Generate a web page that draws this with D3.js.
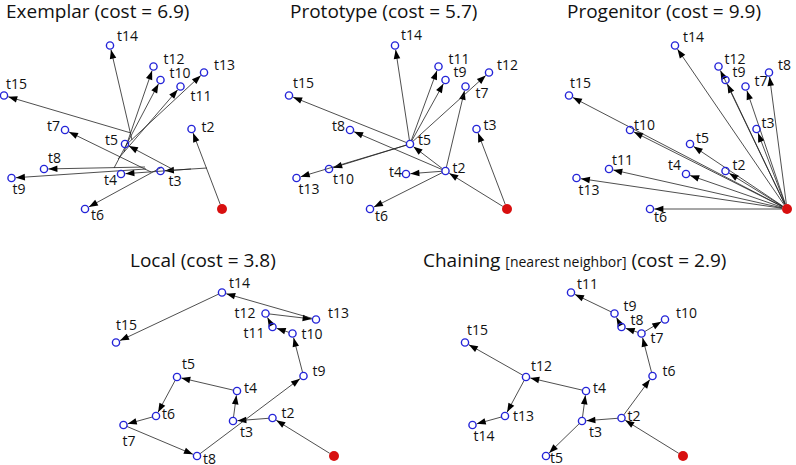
<!DOCTYPE html>
<html><head><meta charset="utf-8">
<script src="https://cdn.jsdelivr.net/npm/d3@7"></script>
<style>body{margin:0;background:#fff}svg{display:block}</style>
</head><body>
<svg id="chart" width="796" height="465"></svg>
<script>
// ---------- DATA ----------
// Shared semantic-space points (root + 14 items)
const pointIds = ["root","A","B","C","D","E","F","G","H","I","J","K","L","M","N"];
const pointX   = [2.20, 1.585, 1.895, 1.19, 1.23, 0.83, 0.63, 0.42, 0.095, 1.515, 1.585, 1.785, 2.02, 1.08, 0.02];
const pointY   = [0.00, 0.38, 0.80, 0.35, 0.65, 0.00, 0.79, 0.40, 0.31, 1.425, 1.29, 1.225, 1.365, 1.635, 1.135];

const panelNames = ["Exemplar", "Prototype", "Progenitor", "Local", "Chaining"];
const panelCosts = ["6.9", "5.7", "9.9", "3.8", "2.9"];
const chainingNote = "[nearest neighbor]";

// emergence order: point id for t1..t15
const exemplarOrder   = ["root","B","A","C","D","E","F","G","H","J","K","I","L","M","N"];
const prototypeOrder  = ["root","A","B","C","D","E","K","F","J","G","I","L","H","M","N"];
const progenitorOrder = ["root","A","B","C","D","E","K","L","J","F","G","I","H","M","N"];
const localOrder      = ["root","A","C","D","F","G","H","E","B","K","J","I","L","M","N"];
const chainingOrder   = ["root","A","C","D","E","B","K","J","I","L","M","F","G","H","N"];

// parent (t index) of t2..t15
const prototypeParents  = [1,1,2,2,2,2,2,5,5,5,5,5,5,5];
const progenitorParents = [1,1,1,1,1,1,1,1,1,1,1,1,1,1];
const localParents      = [1,2,3,4,5,6,7,8,9,10,11,12,13,14];
const chainingParents   = [1,2,3,3,2,6,7,8,7,9,4,12,13,12];

// exemplar model: arrows start from the aggregate of existing items (t2..t15)
const exemplarSourceX = [2.20, 2.05, 1.89, 1.72, 1.60, 1.49, 1.43, 1.44, 1.12, 1.16, 1.22, 1.24, 1.30, 1.29];
const exemplarSourceY = [0.00, 0.41, 0.40, 0.39, 0.42, 0.37, 0.42, 0.40, 0.41, 0.50, 0.57, 0.64, 0.69, 0.76];

// ---------- LAYOUT ----------
const panelRoot = [[222,209],[507,209],[787,209],[334,456],[683,456]];
const titlePos  = [[6,18],[290,18],[567,18],[130,267],[423,267]];
const labelOffsets = [
  { t2:[10,3], t3:[8,15], t4:[-4,11,"end"], t5:[-7,1,"end"], t6:[6,11], t7:[-5,1,"end"], t8:[4,-6], t9:[1,16],
    t10:[9,-2], t11:[10,14], t12:[10,-3], t13:[10,-3], t14:[7,-5], t15:[2,-7] },
  { t2:[7,2], t3:[7,1], t4:[-4,3,"end"], t5:[8,1], t6:[5,12], t7:[10,11], t8:[-5,1,"end"], t9:[8,-3],
    t10:[4,15], t11:[10,-3], t12:[8,-3], t13:[2,16], t14:[6,-6], t15:[4,-8] },
  { t2:[7,-1], t3:[5,-1], t4:[-5,-4,"end"], t5:[6,-1], t6:[4,13], t7:[9,-1], t8:[9,-3], t9:[7,-3],
    t10:[4,0], t11:[3,-4], t12:[6,-3], t13:[2,17], t14:[8,-4], t15:[1,-8] },
  { t2:[9,0], t3:[7,16], t4:[7,2], t5:[5,-8], t6:[6,3], t7:[-1,21], t8:[6,8], t9:[9,0],
    t10:[9,5], t11:[-8,11,"end"], t12:[-10,4,"end"], t13:[12,-2], t14:[7,-5], t15:[0,-13] },
  { t2:[6,3], t3:[7,16], t4:[7,2], t5:[4,7], t6:[10,0], t7:[9,9], t8:[9,-2], t9:[9,-3],
    t10:[11,-2], t11:[6,-4], t12:[5,-6], t13:[8,5], t14:[1,16], t15:[2,-8] }
];

const orders  = [exemplarOrder, prototypeOrder, progenitorOrder, localOrder, chainingOrder];
const parents = [null, prototypeParents, progenitorParents, localParents, chainingParents];

const R = 3.6, ROOT_R = 5;
const NODE_COLOR = "#2424d8", ROOT_COLOR = "#d80f0f";
const FONT = "'Open Sans', 'DejaVu Sans', sans-serif";

const svg = d3.select("#chart");

function arrow(g, sx, sy, tx, ty, startOff, endOff) {
  const dx = tx - sx, dy = ty - sy, L = Math.hypot(dx, dy);
  const ux = dx / L, uy = dy / L, nx = -uy, ny = ux;
  const x0 = sx + ux * startOff, y0 = sy + uy * startOff;
  const tipX = tx - ux * endOff, tipY = ty - uy * endOff;
  g.append("line").attr("x1", x0).attr("y1", y0).attr("x2", tipX).attr("y2", tipY)
    .attr("stroke", "#222").attr("stroke-width", 0.8);
  const len = 9, hw = 3.3;
  const bx = tipX - ux * len, by = tipY - uy * len;
  g.append("path")
    .attr("d", `M${tipX},${tipY}L${bx + nx*hw},${by + ny*hw}L${bx - nx*hw},${by - ny*hw}Z`)
    .attr("fill", "#000");
}

panelNames.forEach((name, p) => {
  const [rx, ry] = panelRoot[p];
  const x = d3.scaleLinear().domain([0, 2.2]).range([rx - 220, rx]);
  const y = d3.scaleLinear().domain([0, 1.64]).range([ry, ry - 164]);
  const g = svg.append("g");
  const order = orders[p];
  const pos = order.map(id => { const i = pointIds.indexOf(id); return [x(pointX[i]), y(pointY[i])]; });

  // edges
  const eg = g.append("g");
  for (let k = 1; k < order.length; k++) {
    const [tx, ty] = pos[k];
    if (p === 0) {
      const sx = x(exemplarSourceX[k - 1]), sy = y(exemplarSourceY[k - 1]);
      arrow(eg, sx, sy, tx, ty, k === 1 ? ROOT_R : 0, R + 0.8);
    } else {
      const par = parents[p][k - 1] - 1;
      const [sx, sy] = pos[par];
      arrow(eg, sx, sy, tx, ty, par === 0 ? ROOT_R : R, R + 0.8);
    }
  }

  // nodes
  g.selectAll("circle.n").data(pos.slice(1)).join("circle")
    .attr("cx", d => d[0]).attr("cy", d => d[1]).attr("r", R)
    .attr("fill", "none").attr("stroke", NODE_COLOR).attr("stroke-width", 1.4);
  g.append("circle").attr("cx", pos[0][0]).attr("cy", pos[0][1]).attr("r", ROOT_R).attr("fill", ROOT_COLOR);

  // labels
  for (let k = 1; k < order.length; k++) {
    const lab = "t" + (k + 1);
    const o = labelOffsets[p][lab];
    g.append("text").attr("x", pos[k][0] + o[0]).attr("y", pos[k][1] + o[1])
      .attr("text-anchor", o[2] || "start")
      .attr("font-family", FONT).attr("font-size", 14).attr("fill", "#111").text(lab);
  }

  // title
  const t = svg.append("text").attr("x", titlePos[p][0]).attr("y", titlePos[p][1])
    .attr("font-family", FONT).attr("font-size", 19).attr("fill", "#111");
  if (name === "Chaining") {
    t.append("tspan").text(name + " ");
    t.append("tspan").attr("font-size", 14).text(chainingNote);
    t.append("tspan").text(" (cost = " + panelCosts[p] + ")");
  } else {
    t.text(name + " (cost = " + panelCosts[p] + ")");
  }
});
</script>
</body></html>
